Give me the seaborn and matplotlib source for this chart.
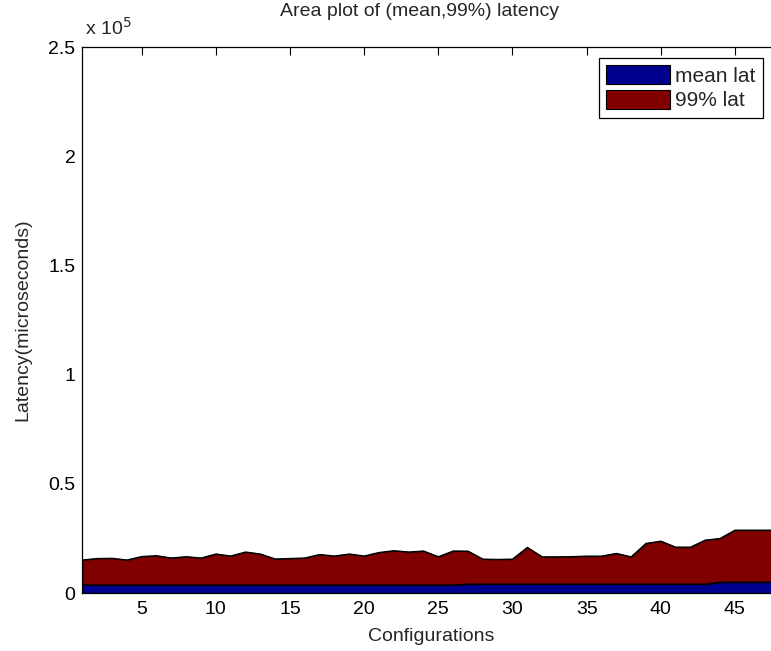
import matplotlib
matplotlib.use("Agg")
import matplotlib.pyplot as plt
import numpy as np
import pandas as pd
import seaborn as sns
from matplotlib.ticker import FuncFormatter
from matplotlib.patches import Patch

# ---- data ----
configs = list(range(1, 49))
mean_lat = [3700, 3700, 3700, 3700, 3700, 3700, 3700, 3700, 3700, 3700,
            3700, 3700, 3700, 3700, 3700, 3700, 3700, 3700, 3700, 3700,
            3700, 3700, 3700, 3700, 3700, 3700, 4100, 4100, 4100, 4100,
            4100, 4100, 4100, 4100, 4100, 4100, 4100, 4100, 4100, 4100,
            4100, 4100, 4100, 5000, 5000, 5000, 5000, 5000]
p99_lat = [11450, 12140, 12230, 11450, 13050, 13420, 12370, 12960, 12370, 14200,
           13280, 15110, 14200, 11910, 12140, 12370, 13970, 13280, 14200, 13280,
           14880, 15710, 15110, 15570, 12960, 15570, 15110, 11450, 11310, 11450,
           16810, 12500, 12500, 12590, 12820, 12820, 14060, 12500, 18640, 19690,
           16940, 16940, 20150, 20010, 23810, 23810, 23810, 23810]
series_names = ["mean lat", "99% lat"]
series_colors = ["#00008F", "#800000"]
y_ticks = [0, 50000, 100000, 150000, 200000, 250000]
x_ticks = [5, 10, 15, 20, 25, 30, 35, 40, 45]

df = pd.DataFrame({"config": configs, "mean": mean_lat, "p99": p99_lat})
df["top"] = df["mean"] + df["p99"]

sns.set_style("white")
plt.rcParams["font.family"] = ["Liberation Sans", "DejaVu Sans"]
FS = 14

W, H = 771, 651
fig = plt.figure(figsize=(W / 100, H / 100), dpi=100)
fig.patch.set_facecolor("white")
left, right_px, top_px, bottom_px = 82.4, 779.4, 47, 593
ax = fig.add_axes([left / W, 1 - bottom_px / H, (right_px - left) / W, (bottom_px - top_px) / H])

# stacked areas
ax.fill_between(df["config"], 0, df["mean"], facecolor=series_colors[0], edgecolor="black", linewidth=0.8)
ax.fill_between(df["config"], df["mean"], df["top"], facecolor=series_colors[1], edgecolor="black", linewidth=0.8)
sns.lineplot(x="config", y="top", data=df, ax=ax, color="black", linewidth=0.8, legend=False)
sns.lineplot(x="config", y="mean", data=df, ax=ax, color="black", linewidth=0.8, legend=False)

ax.set_xlim(1, 48)
ax.set_ylim(0, 250000)
ax.set_xticks(x_ticks)
ax.set_yticks(y_ticks)
ax.yaxis.set_major_formatter(FuncFormatter(lambda v, p: f"{v/1e5:g}"))
ax.tick_params(direction="in", length=6, width=0.8, top=True, right=True,
               labelsize=FS, colors="black")
ax.tick_params(axis="x", pad=6)
ax.tick_params(axis="y", pad=5)
for s in ax.spines.values():
    s.set_visible(True)
    s.set_color("black")
    s.set_linewidth(0.9)

ax.set_xlabel("Configurations", fontsize=FS, labelpad=7)
ax.set_ylabel("Latency(microseconds)", fontsize=FS, labelpad=12)
fig.text(420 / W, 1 - 12 / H, "Area plot of (mean,99%) latency", ha="center", va="center", fontsize=FS)
ax.text(3 / (right_px - left), (bottom_px - 35) / (bottom_px - top_px), r"x 10$^5$",
        transform=ax.transAxes, ha="left", va="baseline", fontsize=FS)

handles = [Patch(facecolor=c, edgecolor="black", linewidth=0.8) for c in series_colors]
leg = ax.legend(handles, series_names, loc="upper right",
                bbox_to_anchor=(763 / W, 1 - 58 / H), bbox_transform=fig.transFigure,
                borderaxespad=0, fancybox=False, framealpha=1, edgecolor="black",
                fontsize=15, handlelength=3.08, handleheight=1.0, handletextpad=0.25,
                labelspacing=0.2, borderpad=0.35)
leg.get_frame().set_linewidth(0.9)

fig.savefig("out.png", dpi=100, facecolor="white")
